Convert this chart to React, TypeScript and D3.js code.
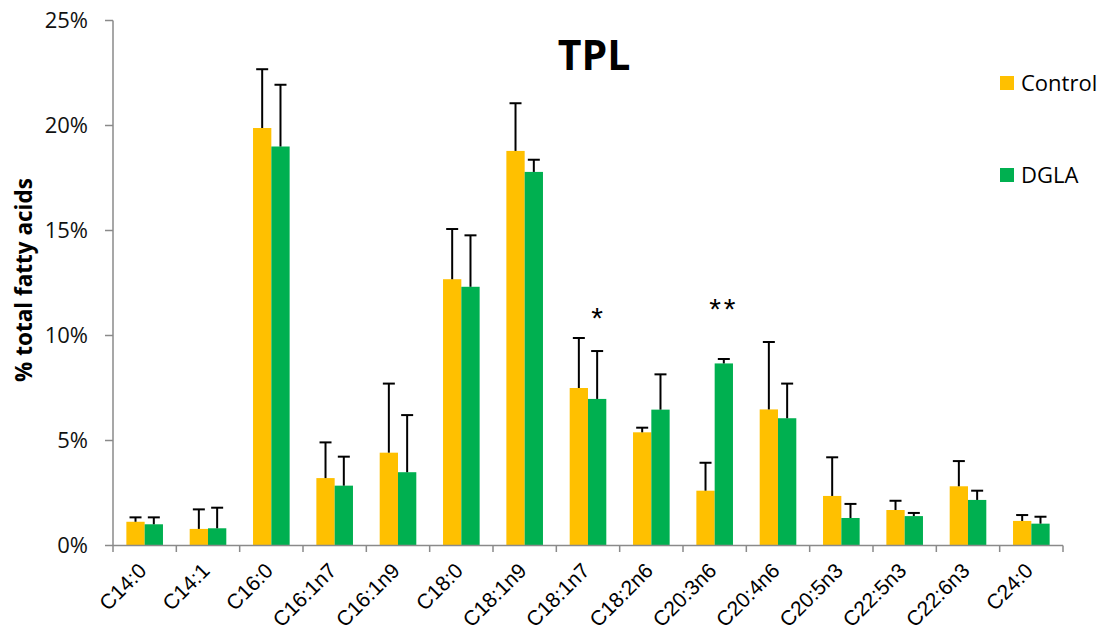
import React from "react";
import * as d3 from "d3";

// Fatty-acid composition of total phospholipids (% of total fatty acids)
const categories = [
  "C14:0", "C14:1", "C16:0", "C16:1n7", "C16:1n9", "C18:0", "C18:1n9", "C18:1n7",
  "C18:2n6", "C20:3n6", "C20:4n6", "C20:5n3", "C22:5n3", "C22:6n3", "C24:0",
];
const seriesNames = ["Control", "DGLA"];
const controlValues = [1.13, 0.79, 19.88, 3.21, 4.42, 12.68, 18.79, 7.5, 5.39, 2.61, 6.48, 2.36, 1.69, 2.82, 1.17];
const controlErrors = [0.21, 0.93, 2.8, 1.7, 3.29, 2.39, 2.27, 2.38, 0.22, 1.33, 3.21, 1.84, 0.44, 1.2, 0.28];
const dglaValues = [1.01, 0.82, 19.0, 2.85, 3.49, 12.32, 17.79, 6.98, 6.47, 8.67, 6.06, 1.31, 1.4, 2.17, 1.04];
const dglaErrors = [0.33, 0.98, 2.94, 1.38, 2.72, 2.45, 0.58, 2.28, 1.68, 0.21, 1.65, 0.67, 0.15, 0.44, 0.33];
const yTicks = [0, 5, 10, 15, 20, 25];
// significance marks drawn above the DGLA bars
const sigMarks = [
  { category: "C18:1n7", mark: "*" },
  { category: "C20:3n6", mark: "**" },
];

const colors: Record<string, string> = { Control: "#FFC000", DGLA: "#00B050" };

export default function App() {
  const W = 1111;
  const H = 630;
  const left = 113;
  const right = 1063;
  const top = 20.5;
  const bottom = 545.5;

  const x0 = d3.scaleBand<string>().domain(categories).range([left, right]).padding(0);
  const x1 = d3
    .scaleBand<string>()
    .domain(seriesNames)
    .range([0, x0.bandwidth()])
    .paddingInner(0)
    .paddingOuter(0.73);
  const y = d3.scaleLinear().domain([0, 25]).range([bottom, top]);

  const rows = categories.map((c, i) => ({
    category: c,
    bars: [
      { series: "Control", value: controlValues[i], err: controlErrors[i] },
      { series: "DGLA", value: dglaValues[i], err: dglaErrors[i] },
    ],
  }));

  const axisColor = "#8a8a8a";
  const capHalf = 6;
  const markTop: Record<string, number> = { "*": 306.5, "**": 298 };

  return (
    <svg
      width={W}
      height={H}
      style={{ position: "absolute", left: 0, top: 0, background: "#fff" }}
    >
      {/* bars */}
      {rows.map((r) => (
        <g key={r.category} transform={`translate(${x0(r.category)},0)`}>
          {r.bars.map((b) => (
            <rect
              key={b.series}
              x={x1(b.series)}
              y={y(b.value)}
              width={x1.bandwidth()}
              height={y(0) - y(b.value)}
              fill={colors[b.series]}
            />
          ))}
          {r.bars.map((b) => {
            const cx = (x1(b.series) as number) + x1.bandwidth() / 2;
            return (
              <g key={b.series + "err"} stroke="#000" strokeWidth={2}>
                <line x1={cx} x2={cx} y1={y(b.value)} y2={y(b.value + b.err)} />
                <line x1={cx - capHalf} x2={cx + capHalf} y1={y(b.value + b.err)} y2={y(b.value + b.err)} />
              </g>
            );
          })}
        </g>
      ))}

      {/* y axis */}
      <line x1={left} x2={left} y1={top} y2={bottom} stroke={axisColor} strokeWidth={1.5} />
      {yTicks.map((t) => (
        <g key={t}>
          <line x1={left - 8} x2={left} y1={y(t)} y2={y(t)} stroke={axisColor} strokeWidth={1.5} />
          <text
            x={88}
            y={y(t)}
            dy="0.35em"
            textAnchor="end"
            fontFamily="'Open Sans', sans-serif"
            fontSize={22}
            fill="#111"
          >
            {`${t}%`}
          </text>
        </g>
      ))}

      {/* x axis */}
      <line x1={left} x2={right} y1={bottom} y2={bottom} stroke={axisColor} strokeWidth={1.5} />
      {categories.concat([""]).map((c, i) => {
        const xx = left + i * x0.step();
        return <line key={"t" + i} x1={xx} x2={xx} y1={bottom} y2={bottom + 6.5} stroke={axisColor} strokeWidth={1.5} />;
      })}
      {categories.map((c) => {
        const cx = (x0(c) as number) + x0.bandwidth() / 2;
        return (
          <text
            key={"l" + c}
            transform={`translate(${cx + 3},572) rotate(-45)`}
            textAnchor="end"
            fontFamily="'Liberation Sans', Arial, sans-serif"
            fontSize={21}
            fill="#000"
          >
            {c}
          </text>
        );
      })}

      {/* significance marks */}
      {sigMarks.map((s) => {
        const cx = (x0(s.category) as number) + (x1("DGLA") as number) + x1.bandwidth() / 2;
        return (
          <text
            key={"s" + s.category}
            x={cx}
            y={markTop[s.mark] + 21}
            textAnchor="middle"
            fontFamily="'Liberation Sans', Arial, sans-serif"
            fontSize={30}
            letterSpacing={s.mark.length > 1 ? 3 : 0}
            fill="#000"
          >
            {s.mark}
          </text>
        );
      })}

      {/* y axis title */}
      <text
        transform={`translate(32,280) rotate(-90)`}
        textAnchor="middle"
        fontFamily="'Open Sans', sans-serif"
        fontWeight="bold"
        fontSize={22.5}
        fill="#000"
      >
        % total fatty acids
      </text>

      {/* chart title */}
      <text
        x={594}
        y={70}
        textAnchor="middle"
        fontFamily="'Open Sans', sans-serif"
        fontWeight="bold"
        fontSize={41}
        fill="#000"
      >
        TPL
      </text>

      {/* legend */}
      {seriesNames.map((s, i) => (
        <g key={"lg" + s} transform={`translate(1000,${76 + i * 92})`}>
          <rect x={0} y={0} width={14} height={14} fill={colors[s]} />
          <text x={21} y={14.5} fontFamily="'Open Sans', sans-serif" fontSize={22} fill="#000">
            {s}
          </text>
        </g>
      ))}
    </svg>
  );
}
